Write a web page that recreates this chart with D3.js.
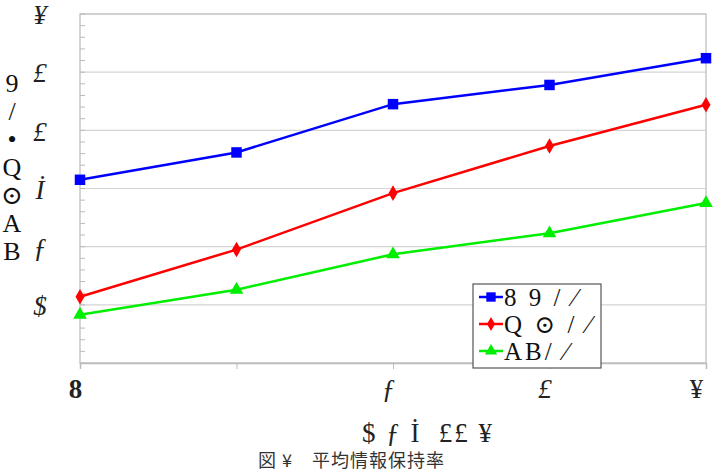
<!DOCTYPE html>
<html>
<head>
<meta charset="utf-8">
<script src="https://cdn.jsdelivr.net/npm/d3@7"></script>
<style>
  html, body { margin: 0; padding: 0; background: #fff; overflow: hidden; }
  svg { display: block; }
</style>
</head>
<body>
<div id="chart"></div>
<script>
// categories along x, and the tick glyphs as they appear in the picture
const xLabels = ["8", "", "ƒ", "£", "¥"];
const yTicks = [1, 2, 3, 4, 5, 6];
const yLabels = ["$", "ƒ", "İ", "£", "£", "¥"];

const seriesNames = ["8 9 / ⁄", "Q ⊙ / ⁄", "AB/ ⁄"];
const blueValues = [3.15, 3.62, 4.45, 4.78, 5.24];
const redValues = [1.14, 1.95, 2.92, 3.73, 4.44];
const greenValues = [0.83, 1.26, 1.87, 2.23, 2.75];

const yTitleChars = ["9", "/", "•", "Q", "⊙", "A", "B"];
const xTitle = "$ ƒ İ  ££ ¥";
const caption = "図 ¥　平均情報保持率";

const width = 721;
const height = 471;
const margin = { top: 14, right: 15, bottom: 108, left: 80 };

const svg = d3.select("#chart")
  .append("svg")
  .attr("width", width)
  .attr("height", height);

const x = d3.scalePoint()
  .domain(d3.range(xLabels.length))
  .range([margin.left, width - margin.right]);

const y = d3.scaleLinear()
  .domain([0, 6])
  .range([height - margin.bottom, margin.top]);

const serif = "'Liberation Serif', 'DejaVu Serif', serif";

// gridlines
svg.append("g")
  .selectAll("line")
  .data(yTicks)
  .join("line")
  .attr("x1", margin.left)
  .attr("x2", width - margin.right)
  .attr("y1", (d) => y(d))
  .attr("y2", (d) => y(d))
  .attr("stroke", "#d4d4d4")
  .attr("stroke-width", 1.2);

// frame
svg.append("rect")
  .attr("x", margin.left)
  .attr("y", margin.top)
  .attr("width", width - margin.left - margin.right)
  .attr("height", y(0) - margin.top)
  .attr("fill", "none")
  .attr("stroke", "#c8c8c8")
  .attr("stroke-width", 1.5);

// left axis with minor ticks pointing inside
const minor = d3.range(0, 6.001, 0.2);
svg.append("g")
  .selectAll("line")
  .data(minor)
  .join("line")
  .attr("x1", margin.left)
  .attr("x2", margin.left + 5)
  .attr("y1", (d) => y(d))
  .attr("y2", (d) => y(d))
  .attr("stroke", "#bbb")
  .attr("stroke-width", 1);

svg.append("g")
  .attr("transform", `translate(${margin.left},0)`)
  .call(d3.axisLeft(y).tickValues(yTicks).tickSize(0).tickPadding(40)
    .tickFormat((d, i) => yLabels[i]))
  .call((g) => g.select(".domain").remove())
  .selectAll("text")
  .attr("font-family", serif)
  .attr("font-size", 27)
  .attr("font-style", "italic")
  .attr("fill", "#222")
  .attr("text-anchor", "middle")
  .attr("dy", "0.36em");

// bottom axis
const xAxis = svg.append("g")
  .attr("transform", `translate(0,${y(0)})`)
  .call(d3.axisBottom(x).tickSize(6).tickPadding(10).tickFormat((i) => xLabels[i]));
xAxis.select(".domain").attr("stroke", "#bbb").attr("stroke-width", 1.5);
xAxis.selectAll(".tick line").attr("stroke", "#bbb");
xAxis.selectAll("text")
  .attr("font-family", serif)
  .attr("font-size", 27)
  .attr("fill", "#222")
  .attr("dx", (d, i) => (i === xLabels.length - 1 ? -10 : -5));
xAxis.selectAll("text").filter((d) => d === 0).attr("font-weight", "bold");
xAxis.selectAll("text").filter((d) => d === 2 || d === 3).attr("font-style", "italic");

// series
const series = [
  { name: seriesNames[0], values: blueValues, color: "#0000ff", symbol: d3.symbolSquare, size: 110 },
  { name: seriesNames[1], values: redValues, color: "#ff0000", symbol: d3.symbolDiamond, size: 70 },
  { name: seriesNames[2], values: greenValues, color: "#00ee00", symbol: d3.symbolTriangle, size: 80 },
];

const line = d3.line()
  .x((d, i) => x(i))
  .y((d) => y(d));

series.forEach((s) => {
  svg.append("path")
    .datum(s.values)
    .attr("d", line)
    .attr("fill", "none")
    .attr("stroke", s.color)
    .attr("stroke-width", 2.5);

  svg.append("g")
    .selectAll("path")
    .data(s.values)
    .join("path")
    .attr("transform", (d, i) => `translate(${x(i)},${y(d)})`)
    .attr("d", d3.symbol().type(s.symbol).size(s.size))
    .attr("fill", s.color);
});

// legend
const legend = svg.append("g").attr("transform", "translate(473,284)");
legend.append("rect")
  .attr("width", 128)
  .attr("height", 84)
  .attr("fill", "#fff")
  .attr("stroke", "#555")
  .attr("stroke-width", 1.2);

series.forEach((s, i) => {
  const row = legend.append("g").attr("transform", `translate(0,${13 + i * 27})`);
  row.append("line")
    .attr("x1", 6).attr("x2", 30)
    .attr("stroke", s.color).attr("stroke-width", 2.5);
  row.append("path")
    .attr("transform", "translate(18,0)")
    .attr("d", d3.symbol().type(s.symbol).size(s.size * 0.8))
    .attr("fill", s.color);
  row.append("text")
    .attr("x", 31)
    .attr("dy", "0.36em")
    .attr("font-family", serif)
    .attr("font-size", 25)
    .attr("letter-spacing", 3)
    .attr("fill", "#111")
    .text(s.name);
});

// y title, stacked vertically at the left edge
svg.append("g")
  .selectAll("text")
  .data(yTitleChars)
  .join("text")
  .attr("x", 12)
  .attr("y", (d, i) => 92 + i * 28)
  .attr("text-anchor", "middle")
  .attr("font-family", serif)
  .attr("font-size", 26)
  .attr("fill", "#111")
  .text((d) => d);

// x title
svg.append("text")
  .attr("x", 428)
  .attr("y", 442)
  .attr("text-anchor", "middle")
  .attr("font-family", serif)
  .attr("font-size", 27)
  .attr("letter-spacing", 2)
  .attr("fill", "#222")
  .attr("xml:space", "preserve")
  .text(xTitle);

// caption at the bottom edge
svg.append("text")
  .attr("x", 258)
  .attr("y", 467)
  .attr("font-family", "'Noto Sans CJK JP', sans-serif")
  .attr("font-size", 18)
  .attr("letter-spacing", 1)
  .attr("fill", "#333")
  .text(caption);
</script>
</body>
</html>
